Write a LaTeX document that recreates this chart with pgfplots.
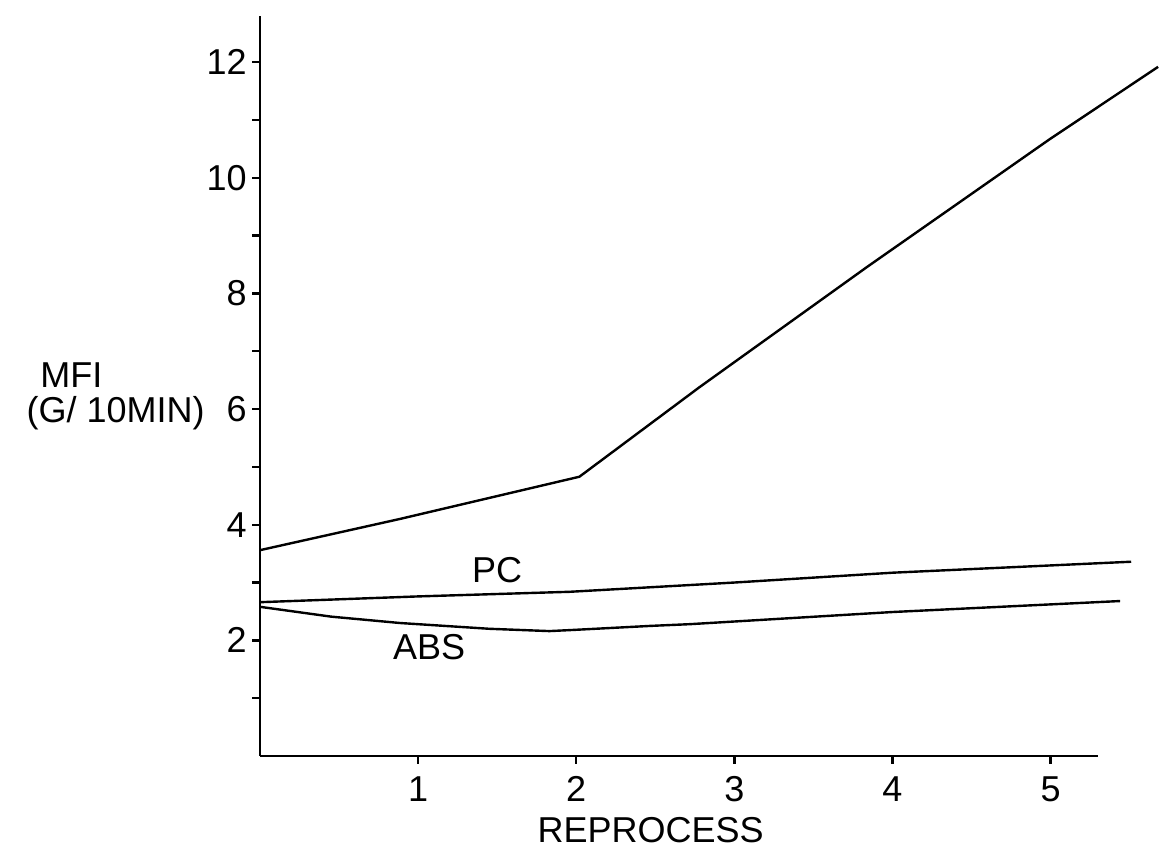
\documentclass[border=0pt]{standalone}
\usepackage{pgfplots}
\pgfplotsset{compat=1.18}
\usepackage{fontspec}
\setmainfont{Liberation Sans}
\begin{document}
\begin{tikzpicture}
\begin{axis}[
  scale only axis,
  width=419pt, height=370pt,
  xmin=0, xmax=5.3, ymin=0, ymax=12.8,
  enlargelimits=false,
  clip=false,
  axis lines=left,
  axis line style={-, line width=1.2pt},
  tick style={line width=1.2pt, black},
  tick align=outside,
  xtick={1,2,3,4,5},
  ytick={2,4,6,8,10,12},
  minor ytick={1,3,5,7,9,11},
  major tick length=4pt,
  minor tick length=4pt,
  /pgf/number format/assume math mode=true,
  every tick label/.append style={font=\fontsize{18}{20}\selectfont},
  yticklabel style={inner sep=0pt, xshift=-2.5pt},
  xticklabel style={inner sep=0pt, yshift=-6pt},
]
\addplot[black, line width=1.2pt] coordinates {
  (0,3.56) (0.885,4.10) (2.02,4.83) (2.78,6.38) (3.84,8.46) (4.99,10.66) (5.68,11.92)
};
\addplot[black, line width=1.2pt] coordinates {
  (0,2.66) (1.0,2.76) (1.96,2.84) (3.0,3.0) (4.0,3.17) (5.51,3.36)
};
\addplot[black, line width=1.2pt] coordinates {
  (0,2.58) (0.45,2.41) (0.885,2.30) (1.45,2.20) (1.83,2.16) (1.98,2.18) (2.47,2.25) (2.72,2.28) (4.0,2.49) (5.44,2.68)
};
\node[font=\fontsize{18}{20}\selectfont] at (axis cs:1.50,3.22) {PC};
\node[font=\fontsize{18}{20}\selectfont] at (axis cs:1.07,1.89) {ABS};
\node[font=\fontsize{18}{20}\selectfont] at (axis cs:2.47,-1.28) {REPROCESS};
\node[font=\fontsize{18}{20}\selectfont, anchor=west, inner sep=0pt] at (rel axis cs:-0.2625,0.515) {MFI};
\node[font=\fontsize{18}{20}\selectfont, anchor=east, inner sep=0pt] at (rel axis cs:-0.0656,0.4635) {(G/ 10MIN)};
\coordinate (bl) at (rel axis cs:-0.3103,-0.1311);
\coordinate (tr) at (rel axis cs:1.0728,1.0216);
\end{axis}
\pgfresetboundingbox
\path[use as bounding box] (bl) rectangle (tr);
\end{tikzpicture}
\end{document}
